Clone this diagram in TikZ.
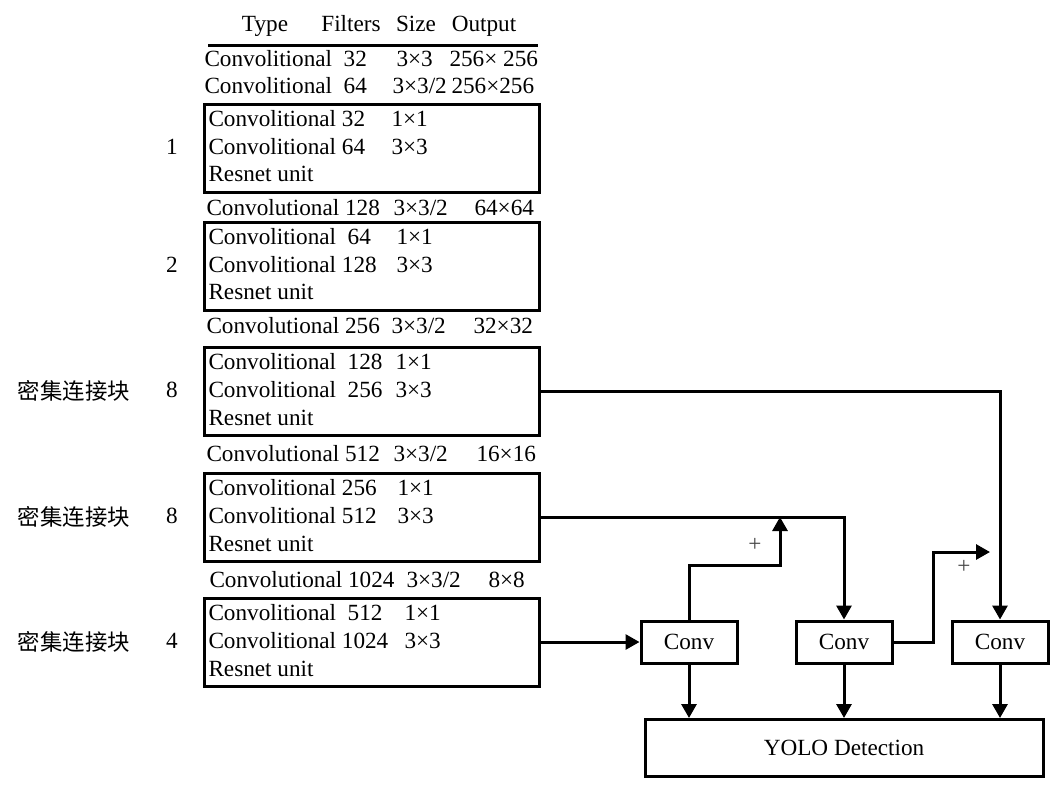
\documentclass[tikz,border=0pt]{standalone}
\usepackage{fontspec}
\setmainfont{Liberation Serif}
\newfontfamily\cjk{Noto Sans CJK SC}
\usetikzlibrary{arrows.meta}
\tikzstyle{every path}=[line width=1.5pt]
\tikzstyle{txt}=[anchor=west, inner sep=0pt, text height=8.5pt, text depth=2.5pt, font=\fontsize{11.6}{14}\selectfont]
\tikzstyle{hdr}=[inner sep=0pt, text height=8.5pt, text depth=2.5pt, font=\fontsize{11.6}{14}\selectfont]
\tikzstyle{cn}=[inner sep=0pt, font=\fontsize{11.2}{13}\cjk]
\tikzstyle{resbox}=[draw, line width=1.5pt, minimum width=167.5pt, minimum height=44pt, inner sep=0pt]
\tikzstyle{convbox}=[draw, line width=1.5pt, minimum width=48pt, minimum height=21pt, inner sep=0pt, font=\fontsize{11.6}{14}\selectfont]
\tikzstyle{arr}=[-{Triangle[length=7pt, width=7.5pt]}]
\definecolor{plussign}{RGB}{70,70,70}

\begin{document}
\begin{tikzpicture}[x=0.5pt, y=-0.5pt]
            \useasboundingbox (0,0) rectangle (1050,784);

            % header
            \node[hdr] (hType) at (265,25) {Type};
            \node[hdr] (hFilters) at (351,25) {Filters};
            \node[hdr] (hSize) at (416,25) {Size};
            \node[hdr] (hOutput) at (484,25) {Output};
            \draw (208,45) -- (538,45);

            \node[txt] (tA) at (203,60) {Convolitional\ \ 32};
            \node[txt] (sA) at (395,60) {3×3};
            \node[txt] (oA) at (448,60) {256× 256};
            \node[txt] (tB) at (203,87) {Convolitional\ \ 64};
            \node[txt] (sB) at (391,87) {3×3/2};
            \node[txt] (oB) at (450,87) {256×256};

            % residual blocks
            \node[resbox] (b1) at (371.5,148) {};
            \node[txt] (b1t1) at (207,120) {Convolitional 32};
            \node[txt] (b1s1) at (390,120) {1×1};
            \node[txt] (b1t2) at (207,148) {Convolitional 64};
            \node[txt] (b1s2) at (390,148) {3×3};
            \node[txt] (b1t3) at (207,175) {Resnet unit};
            \node[hdr] (n1) at (172,148) {1};

            \node[txt] (tC) at (205,209) {Convolutional 128};
            \node[txt] (sC) at (392,209) {3×3/2};
            \node[txt] (oC) at (473,209) {64×64};

            \node[resbox] (b2) at (371.5,266) {};
            \node[txt] (b2t1) at (207,238) {Convolitional\ \ 64};
            \node[txt] (b2s1) at (395,238) {1×1};
            \node[txt] (b2t2) at (207,266) {Convolitional 128};
            \node[txt] (b2s2) at (395,266) {3×3};
            \node[txt] (b2t3) at (207,293) {Resnet unit};
            \node[hdr] (n2) at (172,266) {2};

            \node[txt] (tD) at (205,327) {Convolutional 256};
            \node[txt] (sD) at (390,327) {3×3/2};
            \node[txt] (oD) at (472,327) {32×32};

            \node[resbox] (b3) at (371.5,391) {};
            \node[txt] (b3t1) at (207,363) {Convolitional\ \ 128};
            \node[txt] (b3s1) at (394,363) {1×1};
            \node[txt] (b3t2) at (207,391) {Convolitional\ \ 256};
            \node[txt] (b3s2) at (394,391) {3×3};
            \node[txt] (b3t3) at (207,419) {Resnet unit};
            \node[hdr] (n3) at (172,391) {8};
            \node[cn] (d3) at (74,391) {密集连接块};

            \node[txt] (tE) at (205,455) {Convolutional 512};
            \node[txt] (sE) at (392,455) {3×3/2};
            \node[txt] (oE) at (475,455) {16×16};

            \node[resbox] (b4) at (371.5,517) {};
            \node[txt] (b4t1) at (207,489) {Convolitional 256};
            \node[txt] (b4s1) at (396,489) {1×1};
            \node[txt] (b4t2) at (207,517) {Convolitional 512};
            \node[txt] (b4s2) at (396,517) {3×3};
            \node[txt] (b4t3) at (207,545) {Resnet unit};
            \node[hdr] (n4) at (172,517) {8};
            \node[cn] (d4) at (74,517) {密集连接块};

            \node[txt] (tF) at (208,581) {Convolutional 1024};
            \node[txt] (sF) at (405,581) {3×3/2};
            \node[txt] (oF) at (487,581) {8×8};

            \node[resbox] (b5) at (371.5,642) {};
            \node[txt] (b5t1) at (207,614) {Convolitional\ \ 512};
            \node[txt] (b5s1) at (403,614) {1×1};
            \node[txt] (b5t2) at (207,642) {Convolitional 1024};
            \node[txt] (b5s2) at (403,642) {3×3};
            \node[txt] (b5t3) at (207,670) {Resnet unit};
            \node[hdr] (n5) at (172,642) {4};
            \node[cn] (d5) at (74,642) {密集连接块};

            % detection head
            \node[convbox] (c1) at (689,642) {Conv};
            \node[convbox] (c2) at (844,642) {Conv};
            \node[convbox] (c3) at (1000,642) {Conv};
            \node[convbox, minimum width=199pt, minimum height=28.5pt] (yolo) at (844,748) {YOLO Detection};

            \coordinate (m1) at (780,517);
            \coordinate (m2) at (990,552);
            \node[hdr, text=plussign] (p1) at (755,545) {+};
            \node[hdr, text=plussign] (p2) at (964,567) {+};

            \draw[arr] (b3.east) -| (c3.north);
            \draw[arr] (b4.east) -| (c2.north);
            \draw[arr] (b5.east) -- (c1.west);
            \draw[arr] (c1.north) -- ++(0,-54) -| (m1);
            \draw[arr] (c2.east) -- ++(40,0) |- (m2);
            \draw[arr] (c1.south) -- (c1.south |- yolo.north);
            \draw[arr] (c2.south) -- (c2.south |- yolo.north);
            \draw[arr] (c3.south) -- (c3.south |- yolo.north);
        \end{tikzpicture}
\end{document}
